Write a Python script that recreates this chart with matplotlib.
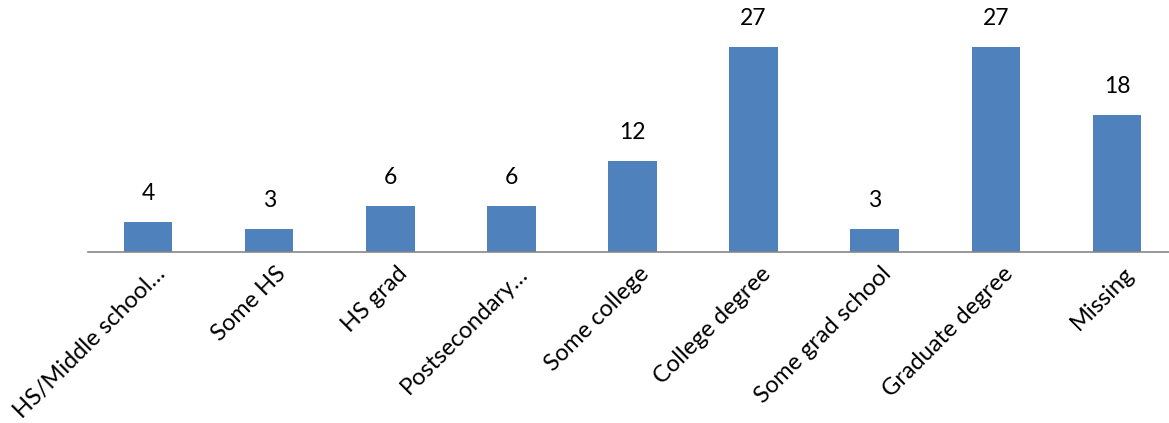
import matplotlib.pyplot as plt
import matplotlib.transforms as mtransforms
import numpy as np

# education level counts
categories = ['HS/Middle school…', 'Some HS', 'HS grad', 'Postsecondary…', 'Some college',
              'College degree', 'Some grad school', 'Graduate degree', 'Missing']
counts = [4, 3, 6, 6, 12, 27, 3, 27, 18]

plt.rcParams['font.family'] = ['Lato', 'DejaVu Sans']

fig = plt.figure(figsize=(11.69, 4.23), dpi=100)
ax = fig.add_axes([87.5 / 1169, 1 - 252 / 423, 1090 / 1169, 228 / 423])

x = np.arange(len(categories))
bars = ax.bar(x, counts, width=0.4, color='#4F81BD')

for xi, v in zip(x, counts):
    ax.annotate(str(v), (xi, v), xytext=(0, 13), textcoords='offset points',
                ha='center', va='bottom', fontsize=16.5)

ax.set_xlim(-0.5, 8.5)
ax.set_ylim(0, 30)
ax.set_xticks(x)
ax.set_xticklabels(categories, rotation=45, ha='right', rotation_mode='anchor', fontsize=17)
ax.tick_params(axis='x', length=0, pad=8)
# nudge the slanted labels to the right so they end past the tick
shift = mtransforms.ScaledTranslation(6 / 100, 0, fig.dpi_scale_trans)
for lbl in ax.get_xticklabels():
    lbl.set_transform(lbl.get_transform() + shift)
ax.set_yticks([])
for side in ['top', 'right', 'left']:
    ax.spines[side].set_visible(False)
ax.spines['bottom'].set_color('#868686')
ax.spines['bottom'].set_linewidth(1.2)

fig.savefig('out.png', dpi=100)
